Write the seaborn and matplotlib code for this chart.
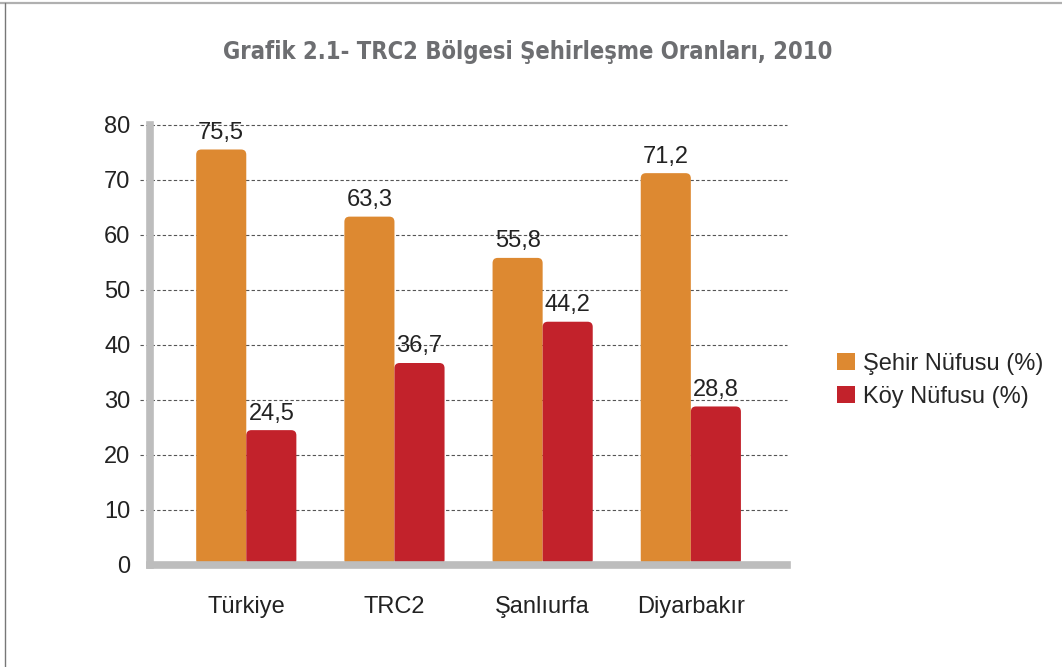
"""
Grafik 2.1 - TRC2 Bölgesi Şehirleşme Oranları, 2010
"""

import pandas as pd
import matplotlib.pyplot as plt
import seaborn as sns
from matplotlib import font_manager
from matplotlib.patches import FancyBboxPatch
from matplotlib.lines import Line2D

# Data
regions = ['Türkiye', 'TRC2', 'Şanlıurfa', 'Diyarbakır']
sehir = [75.5, 63.3, 55.8, 71.2]
koy = [24.5, 36.7, 44.2, 28.8]
series_names = ['Şehir Nüfusu (%)', 'Köy Nüfusu (%)']
y_ticks = [0, 10, 20, 30, 40, 50, 60, 70, 80]

colors = ['#DD8931', '#C2222B']
title = 'Grafik 2.1- TRC2 Bölgesi Şehirleşme Oranları, 2010'

df = pd.DataFrame({
    'Bölge': regions * 2,
    'Seri': [series_names[0]] * len(regions) + [series_names[1]] * len(regions),
    'Oran': sehir + koy,
})

sns.set_style("white")
plt.rcParams['font.family'] = ['Liberation Sans', 'DejaVu Sans']
plt.rcParams['font.size'] = 17

installed = {f.name for f in font_manager.fontManager.ttflist}
title_family = 'Liberation Sans Narrow' if 'Liberation Sans Narrow' in installed else 'DejaVu Sans'

fig = plt.figure(figsize=(10.62, 6.67), dpi=100)
ax = fig.add_axes([0.1412, 0.153, 0.6, 0.66])

sns.barplot(data=df, x='Bölge', y='Oran', hue='Seri', palette=colors,
            width=0.676, gap=0, linewidth=0, saturation=1, ax=ax)

ax.set_xlim(-0.65, 3.65)
ax.set_ylim(0, 80)
ax.set_yticks(y_ticks)
ax.set_xlabel('')
ax.set_ylabel('')

# rounded bar corners
for p in list(ax.patches):
    if p.get_height() <= 0:
        continue
    x, y, w, h = p.get_x(), p.get_y(), p.get_width(), p.get_height()
    fb = FancyBboxPatch((x, y), w, h,
                        boxstyle="round,pad=0,rounding_size=0.035",
                        mutation_aspect=27, facecolor=p.get_facecolor(),
                        edgecolor='none', zorder=1.5)
    p.remove()
    ax.add_patch(fb)
    ax.annotate(f'{h:.1f}'.replace('.', ','), (x + w / 2, h),
                xytext=(0, 4), textcoords='offset points',
                ha='center', va='bottom', fontsize=17, color='#222222')

# dashed gridlines running slightly past the left spine
for yv in y_ticks[1:]:
    ax.axhline(yv, xmin=-0.016, xmax=1, clip_on=False, color='#555555',
               lw=0.8, ls=(0, (3, 2)), zorder=0.5)

for side in ['top', 'right']:
    ax.spines[side].set_visible(False)
for side in ['left', 'bottom']:
    ax.spines[side].set_color('#BDBDBD')
    ax.spines[side].set_linewidth(5.5)
ax.tick_params(axis='y', length=0, pad=14, labelsize=17, labelcolor='#222222')
ax.tick_params(axis='x', length=0, pad=22, labelsize=17, labelcolor='#222222')

sns.move_legend(ax, 'center left', bbox_to_anchor=(0.788, 0.43),
                bbox_transform=fig.transFigure, frameon=False, title=None,
                fontsize=17, handlelength=0.75, handleheight=0.75,
                handletextpad=0.35, labelspacing=0.45, borderpad=0,
                borderaxespad=0)

fig.text(0.497, 0.922, title, ha='center', va='center', fontsize=17,
         fontweight='bold', family=title_family, fontstretch='condensed',
         color='#6D6E71')

# page frame lines (top and left)
fig.add_artist(Line2D([0, 1], [0.9955, 0.9955], transform=fig.transFigure,
                      color='#B0B0B0', lw=1.6))
fig.add_artist(Line2D([0.005, 0.005], [0, 0.996], transform=fig.transFigure,
                      color='#777777', lw=1.0))

fig.savefig('out.png', dpi=100)
